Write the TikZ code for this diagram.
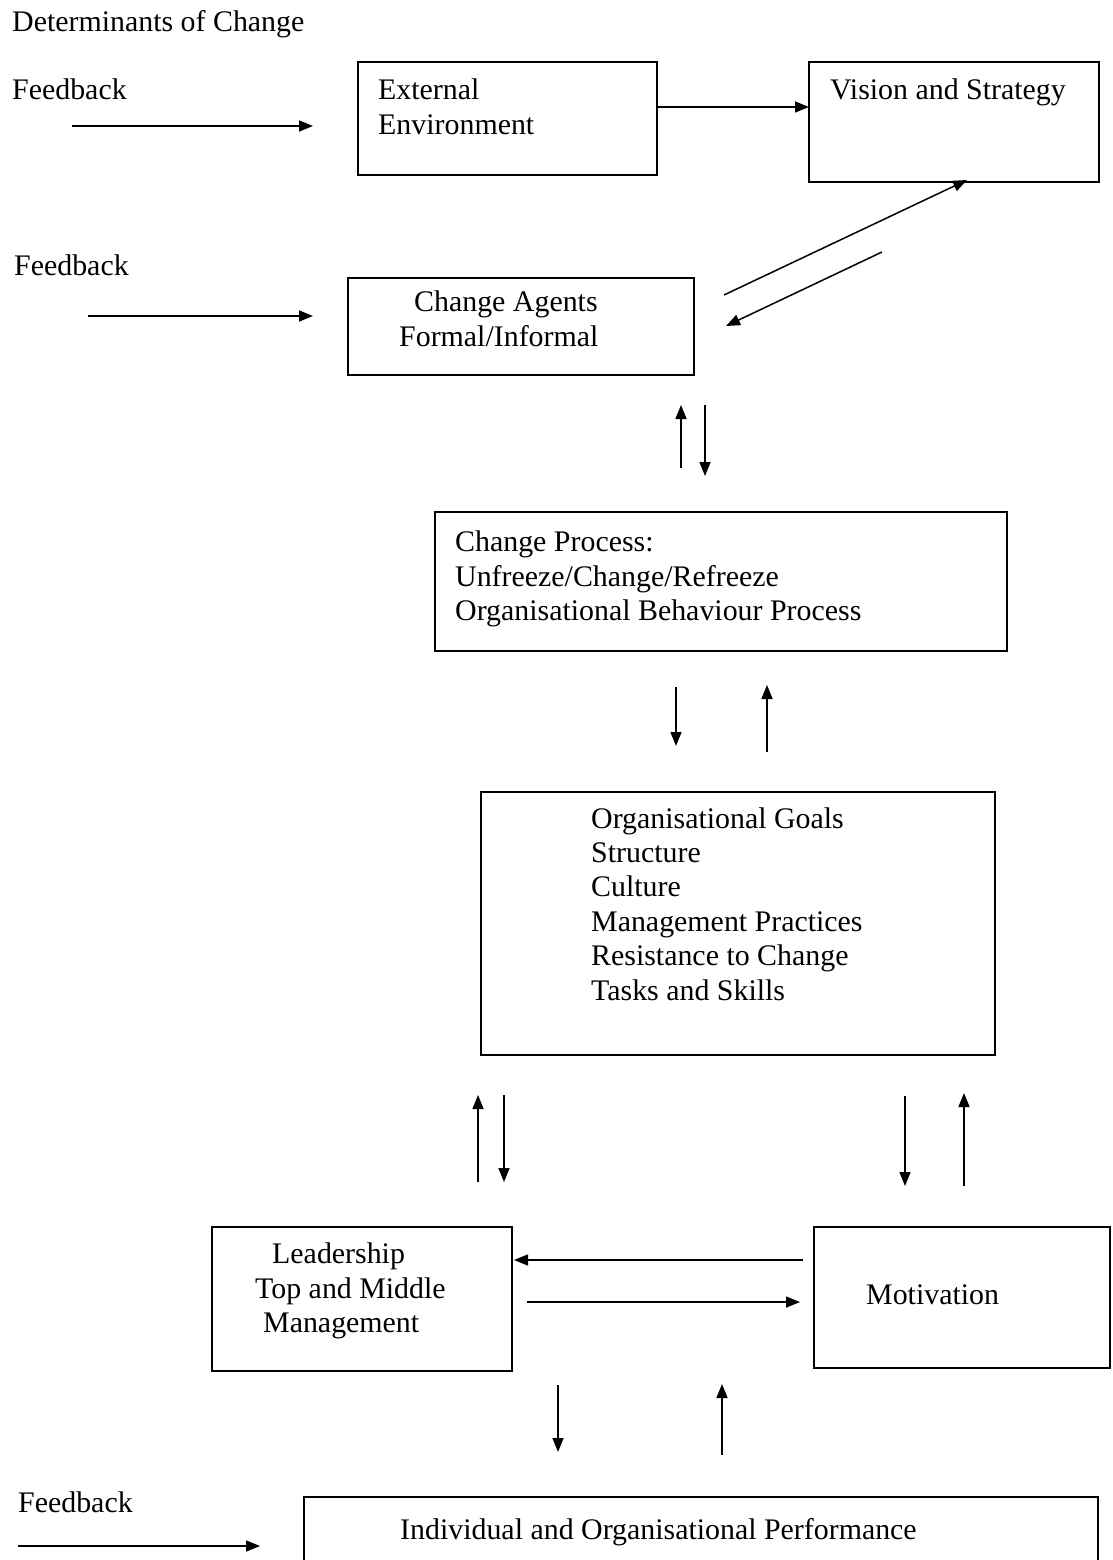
\documentclass[tikz,border=0pt]{standalone}
\usepackage{fontspec}
\setmainfont{Liberation Serif}
\usetikzlibrary{arrows.meta}
\begin{document}
\begin{tikzpicture}[x=1bp,y=-1bp,
  box/.style={draw=black,line width=1.6bp,rectangle,inner sep=0pt,outer sep=0pt,anchor=north west},
  lbl/.style={anchor=base west,inner sep=0pt,font=\fontsize{30}{34.5}\selectfont},
  conn/.style={line width=1.5bp,-{Triangle[length=14bp,width=11bp]}}]
\useasboundingbox (0,0) rectangle (1112,1560);
\clip (0,0) rectangle (1112,1560);
\fill[white] (0,0) rectangle (1112,1560);

% boxes
\node[box,minimum width=299bp,minimum height=113bp] (ext)    at (358,62)   {};
\node[box,minimum width=290bp,minimum height=120bp] (vis)    at (809,62)   {};
\node[box,minimum width=346bp,minimum height=97bp]  (agents) at (348,278)  {};
\node[box,minimum width=572bp,minimum height=139bp] (proc)   at (435,512)  {};
\node[box,minimum width=514bp,minimum height=263bp] (goals)  at (481,792)  {};
\node[box,minimum width=300bp,minimum height=144bp] (lead)   at (212,1227) {};
\node[box,minimum width=296bp,minimum height=141bp] (mot)    at (814,1227) {};
\node[box,minimum width=794bp,minimum height=100bp] (perf)   at (304,1497) {};

% labels
\node[lbl] (title) at (12,32)  {Determinants of Change};
\node[lbl] (fbA)   at (12,100) {Feedback};
\node[lbl] (fbB)   at (14,275) {Feedback};
\node[lbl] (fbC)   at (18,1512) {Feedback};

\node[lbl] (extA) at (378,100) {External};
\node[lbl] (extB) at (378,135) {Environment};
\node[lbl] (visA) at (830,100) {Vision and Strategy};
\node[lbl] (agA)  at (414,311) {Change Agents};
\node[lbl] (agB)  at (399,346) {Formal/Informal};
\node[lbl] (prA)  at (455,551) {Change Process:};
\node[lbl] (prB)  at (455,586) {Unfreeze/Change/Refreeze};
\node[lbl] (prC)  at (455,620) {Organisational Behaviour Process};
\node[lbl] (goA)  at (591,828) {Organisational Goals};
\node[lbl] (goB)  at (591,862) {Structure};
\node[lbl] (goC)  at (591,896) {Culture};
\node[lbl] (goD)  at (591,931) {Management Practices};
\node[lbl] (goE)  at (591,965) {Resistance to Change};
\node[lbl] (goF)  at (591,1000) {Tasks and Skills};
\node[lbl] (leA)  at (272,1263) {Leadership};
\node[lbl] (leB)  at (255,1298) {Top and Middle};
\node[lbl] (leC)  at (263,1332) {Management};
\node[lbl] (moA)  at (866,1304) {Motivation};
\node[lbl] (peA)  at (400,1539) {Individual and Organisational Performance};

% connector end points
\coordinate (f1s) at (72,126);   \coordinate (f1e) at (313,126);
\coordinate (evs) at (657,107);  \coordinate (eve) at (809,107);
\coordinate (d1s) at (724,295);  \coordinate (d1e) at (967,180);
\coordinate (d2s) at (882,252);  \coordinate (d2e) at (726,326);
\coordinate (f2s) at (88,316);   \coordinate (f2e) at (313,316);
\coordinate (u1s) at (681,468);  \coordinate (u1e) at (681,405);
\coordinate (w1s) at (705,405);  \coordinate (w1e) at (705,476);
\coordinate (w2s) at (676,687);  \coordinate (w2e) at (676,746);
\coordinate (u2s) at (767,752);  \coordinate (u2e) at (767,685);
\coordinate (u3s) at (478,1182); \coordinate (u3e) at (478,1095);
\coordinate (w3s) at (504,1095); \coordinate (w3e) at (504,1182);
\coordinate (w4s) at (905,1096); \coordinate (w4e) at (905,1186);
\coordinate (u4s) at (964,1186); \coordinate (u4e) at (964,1093);
\coordinate (l1s) at (803,1260); \coordinate (l1e) at (514,1260);
\coordinate (r1s) at (527,1302); \coordinate (r1e) at (800,1302);
\coordinate (w5s) at (558,1385); \coordinate (w5e) at (558,1452);
\coordinate (u5s) at (722,1455); \coordinate (u5e) at (722,1384);
\coordinate (f3s) at (18,1546);  \coordinate (f3e) at (260,1546);

% connectors
\foreach \c in {f1,ev,d1,d2,f2,u1,w1,w2,u2,u3,w3,w4,u4,l1,r1,w5,u5,f3}
  \draw[conn] (\c s) -- (\c e);
\end{tikzpicture}
\end{document}
